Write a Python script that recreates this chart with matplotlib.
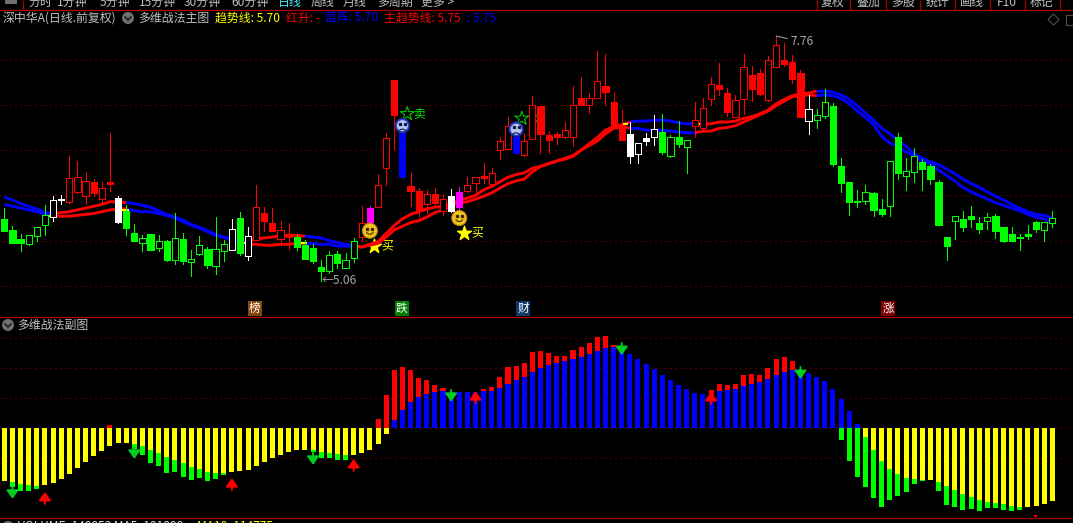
import matplotlib
matplotlib.use("Agg")

import matplotlib.pyplot as plt
import numpy as np

from matplotlib.patches import Circle, Polygon, Rectangle
from matplotlib.transforms import IdentityTransform

plt.rcParams['font.family'] = ['Noto Sans CJK SC', 'DejaVu Sans']

# daily candles, prices (5.0 .. 7.5)
opens = [5.74, 5.62, 5.52, 5.46, 5.55, 5.67, 5.76, 5.96, 5.93, 6.04,
         5.99, 6.15, 5.96, 6.15, 5.97, 5.83, 5.58, 5.47, 5.57, 5.42,
         5.50, 5.29, 5.52, 5.26, 5.35, 5.41, 5.22, 5.39, 5.40, 5.75,
         5.33, 5.51, 5.81, 5.69, 5.52, 5.55, 5.54, 5.45, 5.42, 5.21,
         5.17, 5.35, 5.20, 5.31, 5.54, 5.86, 5.87, 6.30, 7.27, 6.69,
         6.10, 6.05, 5.90, 6.01, 5.83, 5.99, 6.04, 6.05, 6.14, 6.21,
         6.13, 6.50, 6.51, 6.67, 6.45, 6.62, 6.99, 6.67, 6.68, 6.64,
         6.64, 7.07, 7.00, 7.07, 7.21, 7.03, 6.78, 6.68, 6.46, 6.63,
         6.64, 6.70, 6.43, 6.65, 6.53, 6.77, 6.74, 7.06, 7.22, 7.13,
         6.86, 7.06, 7.33, 7.35, 7.05, 7.42, 7.50, 7.47, 7.35, 6.82,
         6.83, 6.88, 6.99, 6.33, 6.15, 5.94, 5.94, 6.03, 5.85, 5.88,
         6.64, 6.21, 6.26, 6.37, 6.33, 6.15, 5.54, 5.72, 5.74, 5.77,
         5.69, 5.72, 5.77, 5.65, 5.57, 5.54, 5.57, 5.71, 5.62, 5.69]
closes = [5.61, 5.47, 5.47, 5.56, 5.65, 5.78, 5.95, 5.95, 6.19, 6.20,
          6.16, 6.03, 6.08, 6.13, 5.71, 5.64, 5.50, 5.53, 5.40, 5.50,
          5.29, 5.53, 5.28, 5.30, 5.45, 5.23, 5.41, 5.46, 5.63, 5.36,
          5.55, 5.87, 5.72, 5.61, 5.62, 5.54, 5.43, 5.30, 5.28, 5.17,
          5.34, 5.25, 5.29, 5.50, 5.70, 5.71, 6.11, 6.63, 6.89, 6.20,
          6.05, 5.84, 6.02, 5.92, 5.96, 5.83, 5.87, 6.12, 6.20, 6.19,
          6.25, 6.60, 6.77, 6.47, 6.60, 7.00, 6.68, 6.61, 6.64, 6.72,
          7.00, 7.00, 7.08, 7.26, 7.14, 6.78, 6.61, 6.43, 6.58, 6.60,
          6.73, 6.48, 6.65, 6.57, 6.61, 6.83, 6.96, 7.23, 7.17, 6.92,
          7.05, 7.42, 7.17, 7.12, 7.49, 7.66, 7.45, 7.29, 6.86, 6.95,
          6.89, 7.03, 6.35, 6.14, 5.93, 5.93, 6.04, 5.84, 5.79, 6.38,
          6.25, 6.27, 6.43, 6.29, 6.18, 5.67, 5.44, 5.77, 5.65, 5.74,
          5.63, 5.76, 5.61, 5.50, 5.50, 5.53, 5.55, 5.63, 5.71, 5.75]
highs = [5.86, 5.66, 5.57, 5.56, 5.65, 5.89, 5.99, 6.00, 6.43, 6.38,
         6.26, 6.18, 6.15, 6.69, 5.99, 5.89, 5.68, 5.56, 5.57, 5.56,
         5.51, 5.81, 5.58, 5.40, 5.55, 5.43, 5.76, 5.51, 5.74, 5.82,
         5.65, 6.11, 5.87, 5.86, 5.72, 5.69, 5.56, 5.51, 5.46, 5.29,
         5.39, 5.39, 5.36, 5.53, 5.88, 5.88, 6.24, 6.69, 7.27, 6.69,
         6.25, 6.08, 6.06, 6.08, 6.00, 6.07, 6.09, 6.20, 6.20, 6.36,
         6.30, 6.65, 6.86, 6.81, 6.69, 7.10, 6.99, 6.71, 6.70, 6.81,
         7.21, 7.31, 7.13, 7.59, 7.56, 7.14, 6.94, 6.81, 6.58, 6.69,
         6.89, 6.90, 6.67, 6.82, 6.61, 7.03, 7.08, 7.31, 7.46, 7.18,
         7.11, 7.56, 7.43, 7.40, 7.54, 7.76, 7.68, 7.55, 7.38, 7.11,
         6.95, 7.17, 7.02, 6.41, 6.15, 6.06, 6.11, 6.04, 5.96, 6.38,
         6.69, 6.41, 6.52, 6.40, 6.35, 6.17, 5.54, 5.77, 5.83, 5.88,
         5.76, 5.81, 5.79, 5.65, 5.65, 5.57, 5.67, 5.72, 5.71, 5.83]
lows = [5.61, 5.47, 5.39, 5.45, 5.50, 5.56, 5.72, 5.90, 5.92, 6.03,
        5.90, 5.99, 5.93, 6.05, 5.69, 5.56, 5.50, 5.39, 5.40, 5.39,
        5.28, 5.24, 5.24, 5.11, 5.34, 5.20, 5.13, 5.28, 5.40, 5.34,
        5.29, 5.51, 5.61, 5.61, 5.45, 5.41, 5.40, 5.30, 5.25, 5.06,
        5.14, 5.20, 5.20, 5.26, 5.50, 5.71, 5.87, 6.11, 6.51, 6.20,
        5.88, 5.76, 5.81, 5.88, 5.78, 5.82, 5.84, 6.04, 6.04, 6.14,
        6.09, 6.40, 6.51, 6.47, 6.44, 6.62, 6.47, 6.47, 6.57, 6.63,
        6.54, 7.00, 6.91, 7.07, 7.00, 6.78, 6.61, 6.36, 6.36, 6.56,
        6.56, 6.46, 6.42, 6.53, 6.25, 6.65, 6.73, 7.00, 7.11, 6.88,
        6.86, 6.90, 7.04, 7.11, 7.04, 7.42, 7.43, 7.24, 6.86, 6.68,
        6.74, 6.85, 6.32, 6.04, 5.78, 5.87, 5.90, 5.77, 5.77, 5.77,
        6.18, 6.06, 6.15, 6.06, 6.13, 5.67, 5.29, 5.52, 5.61, 5.65,
        5.58, 5.63, 5.53, 5.49, 5.50, 5.40, 5.52, 5.60, 5.50, 5.65]

# candle colour, run by run: (colour, number of candles)
candle_runs = [('#00ff00', 6), ('#ffffff', 2), ('#ff0000', 6), ('#ffffff', 1),
               ('#00ff00', 13), ('#ffffff', 1), ('#00ff00', 1), ('#ffffff', 1),
               ('#ff0000', 5), ('#00ff00', 8), ('#ff0000', 1), ('#ff00ff', 1),
               ('#ff0000', 3), ('#0000ff', 1), ('#ff0000', 5), ('#ffffff', 1),
               ('#ff00ff', 1), ('#ff0000', 6), ('#0000ff', 1), ('#ff0000', 13),
               ('#ffffff', 4), ('#00ff00', 4), ('#ff0000', 14), ('#ffffff', 1),
               ('#00ff00', 30)]

# the two trend lines
trend_hi = [5.98, 5.95, 5.91, 5.88, 5.85, 5.81, 5.80, 5.81, 5.82, 5.84,
            5.86, 5.88, 5.90, 5.93, 5.93, 5.92, 5.91, 5.89, 5.87, 5.83,
            5.79, 5.76, 5.73, 5.68, 5.65, 5.61, 5.57, 5.54, 5.51, 5.50,
            5.49, 5.52, 5.53, 5.54, 5.56, 5.56, 5.56, 5.55, 5.54, 5.53,
            5.50, 5.48, 5.46, 5.44, 5.43, 5.46, 5.49, 5.58, 5.67, 5.74,
            5.79, 5.82, 5.85, 5.87, 5.88, 5.91, 5.95, 5.97, 6.00, 6.06,
            6.10, 6.15, 6.20, 6.23, 6.25, 6.30, 6.32, 6.35, 6.38, 6.41,
            6.44, 6.50, 6.57, 6.64, 6.72, 6.76, 6.78, 6.81, 6.82, 6.82,
            6.83, 6.83, 6.82, 6.80, 6.79, 6.79, 6.79, 6.79, 6.81, 6.81,
            6.82, 6.85, 6.87, 6.90, 6.94, 7.01, 7.06, 7.10, 7.12, 7.13,
            7.15, 7.15, 7.14, 7.11, 7.06, 6.99, 6.91, 6.83, 6.74, 6.68,
            6.61, 6.54, 6.46, 6.41, 6.37, 6.34, 6.29, 6.24, 6.18, 6.13,
            6.09, 6.04, 5.99, 5.95, 5.90, 5.86, 5.82, 5.79, 5.78, 5.75]
trend_lo = [5.90, 5.88, 5.86, 5.84, 5.82, 5.79, 5.78, 5.77, 5.77, 5.78,
            5.79, 5.80, 5.82, 5.84, 5.85, 5.85, 5.83, 5.82, 5.82, 5.80,
            5.78, 5.75, 5.71, 5.67, 5.64, 5.60, 5.56, 5.54, 5.51, 5.49,
            5.46, 5.46, 5.45, 5.45, 5.46, 5.46, 5.47, 5.47, 5.47, 5.46,
            5.46, 5.44, 5.44, 5.44, 5.43, 5.45, 5.47, 5.54, 5.62, 5.66,
            5.70, 5.72, 5.76, 5.81, 5.84, 5.88, 5.92, 5.93, 5.96, 5.99,
            6.03, 6.08, 6.13, 6.16, 6.18, 6.26, 6.32, 6.35, 6.38, 6.40,
            6.43, 6.50, 6.55, 6.60, 6.68, 6.74, 6.76, 6.74, 6.74, 6.72,
            6.72, 6.72, 6.71, 6.70, 6.69, 6.69, 6.71, 6.71, 6.74, 6.75,
            6.77, 6.81, 6.85, 6.89, 6.93, 6.99, 7.04, 7.09, 7.10, 7.11,
            7.10, 7.11, 7.10, 7.07, 7.01, 6.93, 6.86, 6.78, 6.65, 6.58,
            6.54, 6.48, 6.43, 6.38, 6.35, 6.28, 6.22, 6.16, 6.09, 6.04,
            6.00, 5.96, 5.92, 5.89, 5.86, 5.83, 5.79, 5.76, 5.74, 5.70]
# first and last candle of each stretch, and its colour
trend_runs = [(0, 6, '#0000ff'), (6, 15, '#ff0000'), (15, 30, '#0000ff'),
              (30, 37, '#ff0000'), (37, 43, '#0000ff'), (43, 77, '#ff0000'),
              (77, 85, '#0000ff'), (85, 100, '#ff0000'), (100, 129, '#0000ff')]
yellow_ticks_x = [5.6, 14.9, 29.9, 36.9, 76.4, 85.3]
yellow_ticks_y = [5.77, 5.84, 5.47, 5.48, 6.79, 6.79]

# signals on the main chart
smile_x = [45, 56]
smile_y = [5.61, 5.75]
sad_x = [49, 63]
sad_y = [6.77, 6.73]
buy_x = [45.5, 56.6]
buy_y = [5.44, 5.585]
sell_x = [49.6, 63.7]
sell_y = [6.90, 6.85]

# sub chart bars
red_bar = [0, 0, 0, 0, 0, 0, 0, 0, 0, 0, 0, 0, 0, 10, 0, 0, 0, 0, 0, 0,
           0, 0, 0, 0, 0, 0, 0, 0, 0, 0, 0, 0, 0, 0, 0, 0, 0, 0, 0, 0,
           0, 0, 0, 0, 0, 0, 30, 110, 193, 204, 194, 168, 161, 144, 134, 0, 0, 0, 0, 131,
           138, 171, 204, 208, 218, 254, 258, 251, 241, 241, 261, 271, 284, 304, 308, 278, 0, 0, 0, 0,
           0, 0, 0, 0, 0, 0, 0, 128, 148, 144, 148, 178, 181, 178, 201, 231, 238, 224, 0, 0,
           0, 0, 0, 0, 0, 0, 0, 0, 0, 0, 0, 0, 0, 0, 0, 0, 0, 0, 0, 0,
           0, 0, 0, 0, 0, 0, 0, 0, 0, 0]
blue_bar = [0, 0, 0, 0, 0, 0, 0, 0, 0, 0, 0, 0, 0, 0, 0, 0, 0, 0, 0, 0,
            0, 0, 0, 0, 0, 0, 0, 0, 0, 0, 0, 0, 0, 0, 0, 0, 0, 0, 0, 0,
            0, 0, 0, 0, 0, 0, 0, 0, 27, 61, 88, 104, 114, 121, 124, 121, 121, 121, 121, 124,
            124, 134, 148, 161, 171, 188, 201, 211, 218, 224, 231, 238, 248, 258, 268, 271, 258, 248, 231, 214,
            198, 178, 161, 144, 131, 118, 114, 111, 124, 128, 131, 141, 148, 154, 164, 178, 188, 194, 191, 184,
            171, 158, 131, 98, 58, 14, 0, 0, 0, 0, 0, 0, 0, 0, 0, 0, 0, 0, 0, 0,
            0, 0, 0, 0, 0, 0, 0, 0, 0, 0]
yellow_bar = [-177, -180, -187, -190, -193, -190, -183, -170, -153, -133, -113, -93, -77, -60, -50, -50, -53, -60, -73, -83,
              -97, -107, -117, -130, -137, -147, -150, -150, -147, -143, -140, -127, -113, -100, -90, -80, -73, -73, -73, -80,
              -83, -87, -90, -90, -83, -73, -53, -20, 0, 0, 0, 0, 0, 0, 0, 0, 0, 0, 0, 0,
              0, 0, 0, 0, 0, 0, 0, 0, 0, 0, 0, 0, 0, 0, 0, 0, 0, 0, 0, 0,
              0, 0, 0, 0, 0, 0, 0, 0, 0, 0, 0, 0, 0, 0, 0, 0, 0, 0, 0, 0,
              0, 0, 0, 0, 0, 0, -29, -72, -109, -136, -152, -166, -169, -172, -172, -179, -192, -206, -219, -229,
              -239, -246, -249, -252, -259, -262, -262, -259, -252, -242]
green_bar = [-177, -197, -210, -210, -203, -190, -183, -170, -153, -133, -113, -93, -77, -60, -50, -50, -70, -90, -117, -127,
             -150, -147, -163, -173, -167, -177, -170, -157, -147, -143, -140, -127, -113, -100, -90, -80, -73, -73, -80, -100,
             -100, -107, -107, -90, -83, -73, -53, -20, 0, 0, 0, 0, 0, 0, 0, 0, 0, 0, 0, 0,
             0, 0, 0, 0, 0, 0, 0, 0, 0, 0, 0, 0, 0, 0, 0, 0, 0, 0, 0, 0,
             0, 0, 0, 0, 0, 0, 0, 0, 0, 0, 0, 0, 0, 0, 0, 0, 0, 0, 0, 0,
             0, 0, 0, -39, -109, -162, -196, -232, -262, -239, -226, -212, -186, -176, -172, -209, -256, -262, -272, -269,
             -276, -266, -266, -272, -276, -272, -262, -259, -252, -242]

down_arrow_x = [1, 16, 38, 55, 76, 98]
down_arrow_tip = [-235, -102, -122, 88, 244, 164]
up_arrow_x = [5, 28, 43, 58, 87]
up_arrow_tip = [-212, -166, -102, 124, 121]

main_grid = [5.0, 5.5, 6.0, 6.5, 7.0, 7.5]
sub_grid = [-100, 0, 100, 200, 300]

left_tabs = ['分时', '1分钟', '5分钟', '15分钟', '30分钟', '60分钟', '日线', '周线', '月线', '多周期', '更多 >']
left_tab_x = [40, 72, 115, 157, 202, 250, 290, 322, 355, 395, 438]
right_tabs = ['复权', '叠加', '多股', '统计', '画线', 'F10', '标记']
right_tab_x = [833, 868, 903, 937, 972, 1007, 1042]
tab_lines = [23, 817, 850, 886, 920, 955, 990, 1025, 1060]

n = len(closes)
x = np.arange(n)
W = 1073
H = 523
LINE_RED = '#a80000'
GRID_RED = '#a00000'
GREY = '#c0c0c0'
XLIM = (-0.533, 131.55)


def px_axes(top, bottom):
    a = fig.add_axes([0, (H - bottom) / H, 1, (bottom - top) / H])
    a.set_facecolor('black')
    a.set_axis_off()
    a.set_xlim(*XLIM)
    return a


def draw_face(ax, i, p, happy):
    cx, cy = ax.transData.transform((i, p))
    tr = IdentityTransform()
    if happy:
        ax.add_patch(Circle((cx, cy), 7.5, fc='#f2c21a', ec='#b98a10', lw=0.7, transform=tr, zorder=7))
        ink = '#3a2a00'
    else:
        ax.add_patch(Circle((cx, cy), 7.5, fc='#3040c8', ec='#101860', lw=0.5, transform=tr, zorder=7))
        ax.add_patch(Circle((cx, cy), 5.5, fc='#b8c8f4', ec='none', transform=tr, zorder=7))
        ink = '#101840'
    ax.plot([cx - 2.5, cx + 2.5], [cy + 2, cy + 2], ls='none', marker='s', ms=1.4, color=ink, transform=tr, zorder=8)
    t = np.linspace(-1, 1, 9)
    arc = -3.5 + 1.6 * t ** 2 if happy else -3.5 - 1.4 * t ** 2
    ax.plot(cx + 3.2 * t, cy + arc, color=ink, lw=0.8, transform=tr, zorder=8)


fig = plt.figure(figsize=(W / 100, H / 100), dpi=100, facecolor='black')

# main chart
ax = px_axes(10, 316)
ax.set_ylim(5 - 30 / 90.6, 5 + 276 / 90.6)
ax.hlines(main_grid, XLIM[0], 131.2, color=GRID_RED, lw=0.72, linestyle=(0, (1, 4)), zorder=1)

for start, end, col in trend_runs:
    for line in (trend_hi, trend_lo):
        ax.plot(x[start:end + 1], line[start:end + 1], color=col, lw=2.1, solid_capstyle='butt', zorder=2)
ax.hlines(yellow_ticks_y, np.array(yellow_ticks_x) - 0.4, np.array(yellow_ticks_x) + 0.4,
          color='#ffff00', lw=1.5, zorder=2.5)

colors = []
for col, count in candle_runs:
    colors += [col] * count
for i in range(n):
    top = max(opens[i], closes[i])
    bot = min(opens[i], closes[i])
    hollow = closes[i] > opens[i]
    ax.vlines(i, lows[i], highs[i], color=colors[i], lw=0.72, zorder=3, antialiased=False)
    ax.bar(i, top - bot, bottom=bot, width=0.76, facecolor='black' if hollow else colors[i],
           edgecolor=colors[i], linewidth=0.72, zorder=4, antialiased=False)

ax.scatter(buy_x, buy_y, marker='*', s=110, color='#ffff00', zorder=1.5)
ax.scatter(sell_x, sell_y, marker='*', s=110, facecolor='none', edgecolor='#00e000', linewidth=0.7, zorder=1.5)
for bx, by in zip(buy_x, buy_y):
    ax.annotate('买', (bx, by), xytext=(7, 0), textcoords='offset pixels', color='#ffff00',
                fontsize=8.6, va='center', zorder=1.5)
for sx, sy in zip(sell_x, sell_y):
    ax.annotate('卖', (sx, sy), xytext=(6, 0), textcoords='offset pixels', color='#00e000',
                fontsize=8.6, va='center', zorder=1.5)
for i, p in zip(smile_x, smile_y):
    draw_face(ax, i, p, True)
for i, p in zip(sad_x, sad_y):
    draw_face(ax, i, p, False)

ax.annotate('←5.06', (39, 5.06), xytext=(0, 0), textcoords='offset pixels', color='#a8a8a8',
            fontsize=8.6, va='center', ha='left', zorder=6)
ax.annotate('7.76', (95, 7.76), xytext=(14, -6), textcoords='offset pixels', color='#a8a8a8',
            fontsize=8.6, va='center', ha='left', zorder=6,
            arrowprops=dict(arrowstyle='-', color='#a8a8a8', lw=0.7, shrinkA=0, shrinkB=0))

# sub chart
ax2 = px_axes(317, 517)
ax2.set_ylim((428.3 - 517) / 0.3, (428.3 - 317) / 0.3)
ax2.hlines(sub_grid, XLIM[0], 131.2, color=GRID_RED, lw=0.72, linestyle=(0, (1, 4)), zorder=1)
ax2.bar(x, green_bar, width=0.62, color='#00ff00', zorder=2)
ax2.bar(x, yellow_bar, width=0.62, color='#ffff00', zorder=3)
ax2.bar(x, red_bar, width=0.62, color='#ff0000', zorder=2)
ax2.bar(x, blue_bar, width=0.62, color='#0000ff', zorder=3)
for i, tip in zip(down_arrow_x, down_arrow_tip):
    ax2.annotate('', xy=(i, tip), xytext=(i, tip + 40), zorder=5,
                 arrowprops=dict(arrowstyle='-|>,head_width=0.36,head_length=0.5', mutation_scale=10,
                                 color='#00cc22', lw=1.4, shrinkA=0, shrinkB=0))
for i, tip in zip(up_arrow_x, up_arrow_tip):
    ax2.annotate('', xy=(i, tip), xytext=(i, tip - 40), zorder=5,
                 arrowprops=dict(arrowstyle='-|>,head_width=0.36,head_length=0.5', mutation_scale=10,
                                 color='#ff0000', lw=1.4, shrinkA=0, shrinkB=0))

# everything round the charts, in picture pixels
top = fig.add_axes([0, 0, 1, 1], facecolor='none')
top.set_axis_off()
top.set_xlim(0, W)
top.set_ylim(H, 0)

for y in (9.5, 316.5, 517.5):
    top.plot([0, W], [y, y], color=LINE_RED, lw=0.9)
top.vlines(tab_lines, 0, 9.5, color=LINE_RED, lw=0.9)
top.add_patch(Rectangle((5, 0), 12, 4, fc='#707070', ec='none'))

for label, tx in zip(left_tabs + right_tabs, left_tab_x + right_tab_x):
    col = '#40e8f8' if label == '日线' else GREY
    top.text(tx, 6, label, color=col, fontsize=8.6, ha='center', va='baseline')


def head(tx, label, col):
    top.text(tx, 18, label, color=col, fontsize=8.6, ha='left', va='center')


def fold_icon(cx, cy):
    top.add_patch(Circle((cx, cy), 6, fc='#707070', ec='none'))
    top.plot([cx - 3, cx, cx + 3], [cy - 1, cy + 2, cy - 1], color='#1a1a1a', lw=1.1)


head(3, '深中华A(日线.前复权)', GREY)
fold_icon(128, 18)
head(138, '多维战法主图', GREY)
head(215, '趋势线: 5.70', '#ffff00')
head(286, '红升: -', '#ff0000')
head(325, '蓝阵: 5.70', '#0000ff')
head(384, '主趋势线: 5.75', '#ff0000')
head(467, ': 5.75', '#0000ff')

top.add_patch(Polygon([(1053.5, 14), (1059, 19.5), (1053.5, 25), (1048, 19.5)], fc='none', ec='#505050', lw=0.8))
top.add_patch(Rectangle((1066, 14.5), 9, 10, fc='none', ec='#505050', lw=0.8))

# tags above the sub chart
for tx, label, col in [(255, '榜', '#85460f'), (401.7, '跌', '#008000'), (523, '财', '#103a68'), (888.3, '涨', '#800000')]:
    top.text(tx, 308.5, label, color='white', fontsize=8.4, ha='center', va='center',
             bbox=dict(fc=col, ec='none', boxstyle='square,pad=0.1'))

fold_icon(8, 325)
top.text(17, 325, '多维战法副图', color=GREY, fontsize=8.6, ha='left', va='center')
fold_icon(8, 527)
top.text(18, 520, 'VOLUME: 148853 MA5: 181880', color='#e0e0e0', fontsize=8.6, ha='left', va='top')
top.text(197, 520, 'MA10: 114775', color='#ffff00', fontsize=8.6, ha='left', va='top')
top.add_patch(Rectangle((1034, 515), 3, 2, fc='#ff0000', ec='none'))

fig.savefig('out.png', dpi=100, facecolor='black')
